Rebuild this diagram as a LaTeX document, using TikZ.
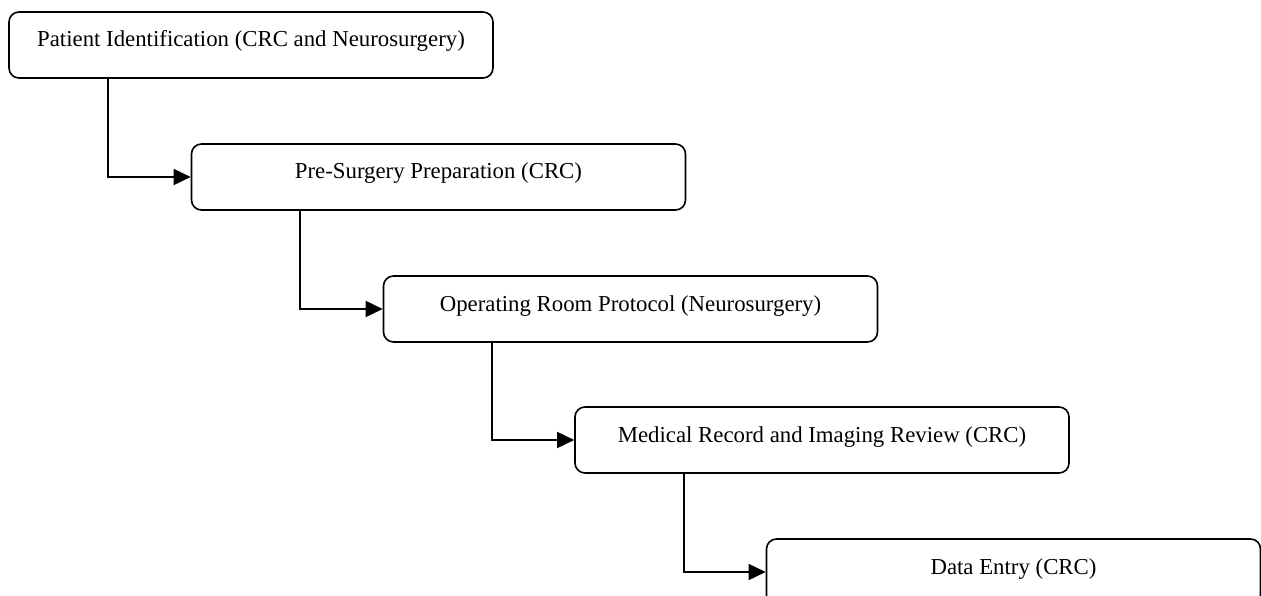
\documentclass[tikz,border=0pt]{standalone}
\usepackage{fontspec}
\setmainfont{Liberation Serif}
\usepackage{tikz}
\usetikzlibrary{positioning,calc,arrows.meta}

\tikzset{
    stepnode/.style={draw, line width=1.6pt, rounded corners=10pt, minimum width=494pt, minimum height=66pt, inner sep=0pt, text height=16pt, text depth=12pt, font=\fontsize{22.8}{26}\selectfont},
    flow/.style={draw, line width=1.6pt, -{Triangle[length=17pt,width=16pt]}}
}

\begin{document}
\begin{tikzpicture}[x=1pt,y=-1pt]

    \useasboundingbox (0,0) rectangle (1261,596);

    \node[stepnode, minimum width=484pt] (ident) at (251,45) {Patient Identification (CRC and Neurosurgery)};
    \node[stepnode] (prep) at (438.5,177) {Pre-Surgery Preparation (CRC)};
    \node[stepnode] (room) at (630.5,309) {Operating Room Protocol (Neurosurgery)};
    \node[stepnode] (review) at (822,440) {Medical Record and Imaging Review (CRC)};
    \node[stepnode] (entry) at (1013.5,572) {Data Entry (CRC)};

    \path[flow] ($(ident.south -| prep.west)+(-83,0)$) |- (prep.west);
    \path[flow] ($(prep.south -| room.west)+(-83,0)$) |- (room.west);
    \path[flow] ($(room.south -| review.west)+(-82,0)$) |- (review.west);
    \path[flow] ($(review.south -| entry.west)+(-82,0)$) |- (entry.west);

\end{tikzpicture}
\end{document}
